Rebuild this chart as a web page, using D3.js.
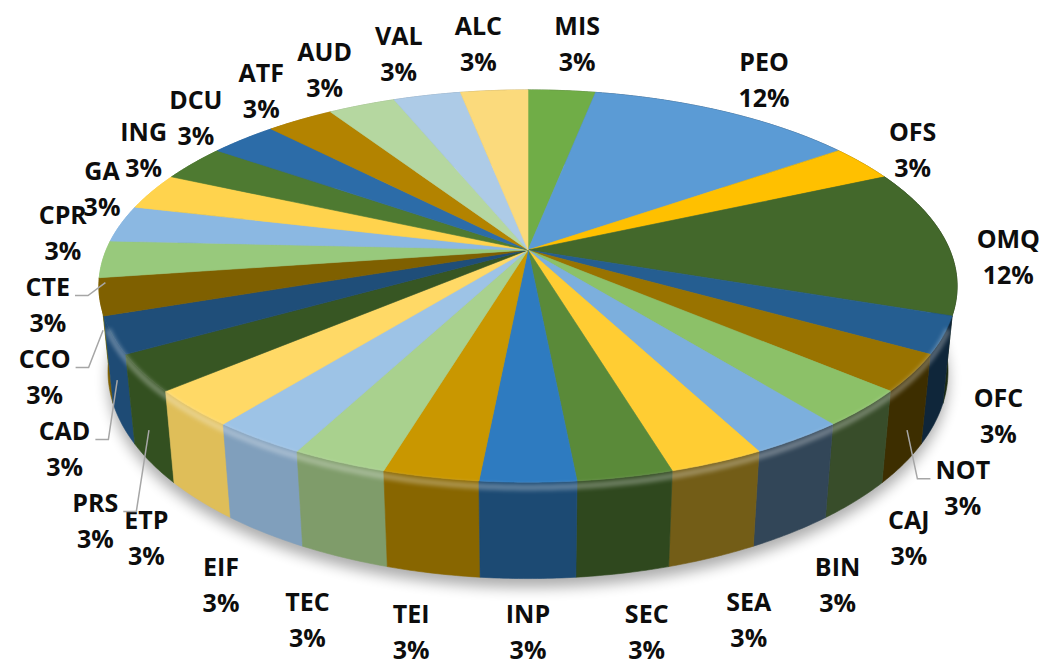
<!DOCTYPE html>
<html lang="en">
<head>
<meta charset="UTF-8">
<title>Pie 3D</title>
<script src="https://cdn.jsdelivr.net/npm/d3@7"></script>
<style>
    body { margin: 0; background: #fff; }
    text.lbl {
        font-family: 'Open Sans', sans-serif;
        font-weight: 700;
        font-size: 25px;
        fill: #0d0d0d;
        text-anchor: middle;
    }
</style>
</head>
<body>
<svg width="1042" height="667"></svg>
<script>
    // slices, clockwise from 12 o'clock
    const names = ["MIS","PEO","OFS","OMQ","OFC","NOT","CAJ","BIN","SEA","SEC","INP","TEI","TEC","EIF",
                   "ETP","PRS","CAD","CCO","CTE","CPR","GA","ING","DCU","ATF","AUD","VAL","ALC"];
    const values = [3,12,3,12,3,3,3,3,3,3,3,3,3,3,3,3,3,3,3,3,3,3,3,3,3,3,3];
    const colors = ["#70AD47","#5B9BD5","#FFC000","#43682B","#255E91","#997300","#8CC168","#7CAFDD","#FFCD33",
                    "#5A8A39","#2E7BC0","#C99700","#A9D18E","#9DC3E6","#FFD966","#375623","#1F4E79","#7F6000",
                    "#98C97C","#8BB8E2","#FFD34D","#4E7A31","#2C6CA8","#B38300","#B5D7A0","#ADCBE7","#FBDA7C"];

    const svg = d3.select("svg");
    const width = 1042;
    const cx = 528, cy = 250;             // point where the slices meet
    const focal = 2050, dist = 4.86;
    const tilt = 26.7 * Math.PI / 180, cosT = Math.cos(tilt), sinT = Math.sin(tilt);
    const thick = 0.227;

    function project(x, y, z) {
        const depth = dist - y * sinT - z * cosT;
        return [cx + focal * x / depth, cy - focal * (y * cosT - z * sinT) / depth];
    }
    function rim(a, y, r = 1) {
        return project(r * Math.sin(a), y, -r * Math.cos(a));
    }
    function arcPts(a0, a1, y, r = 1) {
        const n = Math.max(2, Math.ceil((a1 - a0) / 0.01) + 1);
        return d3.range(n).map(k => rim(a0 + (a1 - a0) * k / (n - 1), y, r));
    }
    const line = d3.line();

    const pie = d3.pie().sort(null).value(d => d).startAngle(0).endAngle(2 * Math.PI);
    const arcs = pie(values);

    const defs = svg.append("defs");
    defs.append("filter").attr("id", "shadow").attr("x", "-20%").attr("y", "-20%")
        .attr("width", "140%").attr("height", "140%")
        .append("feGaussianBlur").attr("stdDeviation", 7);
    defs.append("filter").attr("id", "soft")
        .append("feGaussianBlur").attr("stdDeviation", 2.2);

    // drop shadow under the pie
    const bottom = arcPts(0, 2 * Math.PI, -thick, 1.0).map(p => [p[0], p[1] + 9]);
    svg.append("path").attr("d", line(bottom) + "Z")
        .attr("fill", "#000").attr("opacity", 0.32).attr("filter", "url(#shadow)");

    // side walls, far ones first
    function shade(a) {
        return Math.max(0.4, 0.6 + 0.4 * Math.cos(a - 1.5 * Math.PI));
    }
    function sideColor(i, a) {
        const c = d3.rgb(colors[i]), k = shade(a);
        return d3.rgb(c.r * k, c.g * k, c.b * k).formatHex();
    }
    const walls = arcs.map((d, i) => ({d, i, mid: (d.startAngle + d.endAngle) / 2}))
        .sort((p, q) => Math.cos(q.mid) - Math.cos(p.mid));
    svg.append("g").selectAll("path").data(walls).enter().append("path")
        .attr("d", w => {
            const top = arcPts(w.d.startAngle, w.d.endAngle, 0);
            const bot = arcPts(w.d.startAngle, w.d.endAngle, -thick).reverse();
            return line(top.concat(bot)) + "Z";
        })
        .attr("fill", w => sideColor(w.i, w.mid))
        .attr("stroke", w => sideColor(w.i, w.mid))
        .attr("stroke-width", 0.6);

    // top face
    svg.append("g").selectAll("path").data(arcs).enter().append("path")
        .attr("d", d => line([[cx, cy]].concat(arcPts(d.startAngle, d.endAngle, 0))) + "Z")
        .attr("fill", (d, i) => colors[i])
        .attr("stroke", (d, i) => colors[i])
        .attr("stroke-width", 0.6);

    // bevel highlight along the front edge
    svg.append("path")
        .attr("d", line(arcPts(Math.PI * 0.62, Math.PI * 1.38, -0.012)))
        .attr("fill", "none").attr("stroke", "#fff").attr("stroke-width", 6)
        .attr("opacity", 0.3).attr("filter", "url(#soft)");

    // labels
    function labelPos(a, hw) {
        const yf = -thick * Math.pow((1 - Math.cos(a)) / 2, 2);
        const ring = rim(a, yf, 1.1);
        const s2 = Math.abs(Math.sin(2 * a));
        const k = Math.cos(a) < 0 ? 0.6 : 0.85;
        const x = ring[0] + k * hw * Math.tanh(8 * Math.sin(a));
        const y = ring[1] - 33 * Math.cos(a) + (Math.cos(a) < 0 ? 19 : 10) * s2;
        return [Math.max(hw + 2, Math.min(width - hw - 2, x)), y];
    }

    const lg = svg.append("g");
    const total = d3.sum(values);
    const labels = arcs.map((d, i) => {
        const a = (d.startAngle + d.endAngle) / 2;
        const yf = -thick * Math.pow((1 - Math.cos(a)) / 2, 2);
        const g = lg.append("g");
        const t = g.append("text").attr("class", "lbl");
        const t1 = t.append("tspan").attr("x", 0).attr("y", -11).text(names[i]);
        const t2 = t.append("tspan").attr("x", 0).attr("y", 25)
            .text(d3.format(".0%")(d.value / total));
        const nameW = t1.node().getComputedTextLength() || 40;
        const pctW = t2.node().getComputedTextLength() || 30;
        const hw = Math.max(nameW, pctW) / 2;
        const [x, y] = labelPos(a, hw);
        const rows = [{t: -30, b: -6, w: nameW}, {t: 6, b: 30, w: pctW}];
        return {a, g, hw, nameW, rows, x, y, y0: y, anchor: rim(a, yf, 1.0)};
    });

    // horizontal shift that moves l clear of p, row by row (0 when they do not touch)
    function sideShift(p, l, dir) {
        let need = 0;
        p.rows.forEach(rp => l.rows.forEach(rl => {
            const oy = l.y + rl.t < p.y + rp.b + 2 && p.y + rp.t < l.y + rl.b + 2;
            const gap = (rp.w + rl.w) / 2 + 6 - Math.abs(p.x - l.x);
            if (oy && gap > 0) need = Math.max(need, gap);
        }));
        return need * dir;
    }

    // labels near the front keep their place; the side ones stack downwards
    const front = labels.filter(l => Math.abs(l.a - Math.PI) < 0.87);
    function resolve(group, dir) {
        const placed = [];
        group.sort((p, q) => p.y - q.y).forEach(l => {
            for (let pass = 0; pass < 30; pass++) {
                const hit = placed.find(p => Math.abs(p.x - l.x) < p.hw + l.hw - 6 &&
                                             Math.abs(p.y - l.y) < 66);
                if (!hit) break;
                l.y = hit.y + 72;
            }
            if (l.y - l.y0 > 6) {
                // slide along the label ring towards the front to follow the pie
                let b = l.a, p = labelPos(b, l.hw);
                for (let step = 0; step < 400 && p[1] < l.y && Math.abs(b - Math.PI) > 0.02; step++) {
                    b += dir * 0.005;
                    p = labelPos(b, l.hw);
                }
                l.x = (l.x + p[0]) / 2;
            }
            front.forEach(f => { l.x += sideShift(f, l, dir); });
            placed.push(l);
        });
    }
    resolve(labels.filter(l => l.a < Math.PI && !front.includes(l)), 1);
    resolve(labels.filter(l => l.a > Math.PI && !front.includes(l)), -1);

    labels.forEach(l => {
        l.y = Math.min(l.y, 634);
        l.g.attr("transform", `translate(${l.x},${l.y})`);
        if (l.y - l.y0 > 6) {
            const side = l.a < Math.PI ? -1 : 1;
            const sx = l.x + side * (l.nameW / 2 + 5), sy = l.y - 11;
            lg.append("polyline")
                .attr("points", [[sx, sy], [sx + side * 13, sy], l.anchor].join(" "))
                .attr("fill", "none").attr("stroke", "#A6A6A6").attr("stroke-width", 1.5);
        }
    });
</script>
</body>
</html>
